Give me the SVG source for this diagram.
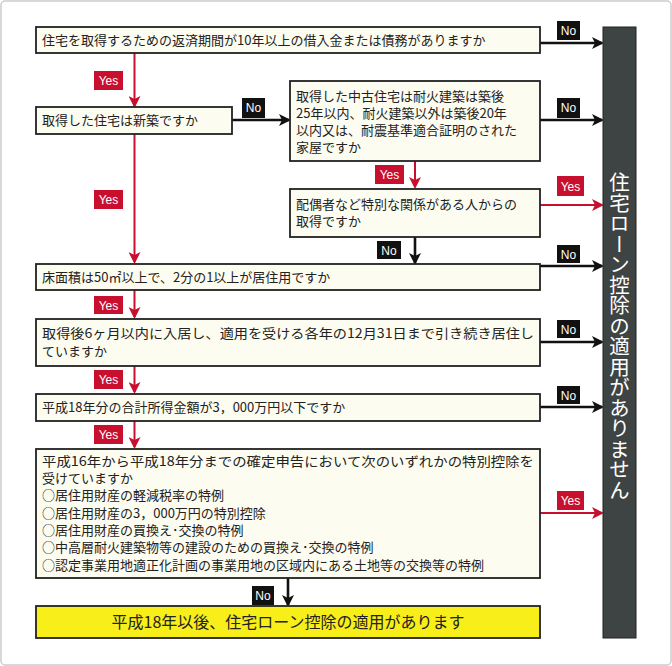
<svg xmlns="http://www.w3.org/2000/svg" width="672" height="666" viewBox="0 0 672 666">
<style>
.box{fill:#fdfcf0;stroke:#222;stroke-width:1.8}
.t{font-family:"Noto Sans CJK JP","Liberation Sans",sans-serif;font-size:13px;fill:#222}
.lb{font-family:"Liberation Sans",sans-serif;font-size:12px;text-anchor:middle}
.no{fill:#111}.yes{fill:#c8102e}
.lt{fill:#fff}
.k{stroke:#111;stroke-width:2.6;fill:none}
.r{stroke:#c8102e;stroke-width:2;fill:none}
</style>
<defs>
<marker id="ak" markerWidth="12" markerHeight="12" refX="10" refY="6" orient="auto" markerUnits="userSpaceOnUse" viewBox="0 0 12 12"><path d="M0,0 L12,6 L0,12 L3,6 Z" fill="#111"/></marker>
<marker id="ar" markerWidth="12" markerHeight="12" refX="10" refY="6" orient="auto" markerUnits="userSpaceOnUse" viewBox="0 0 12 12"><path d="M0,0 L12,6 L0,12 L3,6 Z" fill="#c8102e"/></marker>
</defs>
<rect x="1" y="1" width="670" height="664" rx="4" fill="#fff" stroke="#ccc" stroke-width="1.5"/>
<g id="connectors">
<path class="r" d="M134.5,53 V106" marker-end="url(#ar)"/>
<path class="r" d="M134.5,134 V262" marker-end="url(#ar)"/>
<path class="r" d="M134.5,290 V317" marker-end="url(#ar)"/>
<path class="r" d="M134.5,366 V392" marker-end="url(#ar)"/>
<path class="r" d="M134.5,421 V447" marker-end="url(#ar)"/>
<path class="r" d="M415,161 V187" marker-end="url(#ar)"/>
<path class="r" d="M540,205 H602" marker-end="url(#ar)"/>
<path class="r" d="M540,513 H602" marker-end="url(#ar)"/>
<path class="k" d="M540,43 H602" marker-end="url(#ak)"/>
<path class="k" d="M232,120 H289" marker-end="url(#ak)"/>
<path class="k" d="M540,120 H602" marker-end="url(#ak)"/>
<path class="k" d="M415,237 V263" marker-end="url(#ak)"/>
<path class="k" d="M540,266 H602" marker-end="url(#ak)"/>
<path class="k" d="M540,342 H602" marker-end="url(#ak)"/>
<path class="k" d="M540,407 H602" marker-end="url(#ak)"/>
<path class="k" d="M288,578 V605" marker-end="url(#ak)"/>
<rect class="yes" x="94" y="71" width="29" height="19"/><text class="lb lt" x="108.5" y="85">Yes</text>
<rect class="yes" x="94" y="190" width="29" height="19"/><text class="lb lt" x="108.5" y="204">Yes</text>
<rect class="yes" x="94" y="296" width="29" height="18"/><text class="lb lt" x="108.5" y="310">Yes</text>
<rect class="yes" x="94" y="370" width="29" height="19"/><text class="lb lt" x="108.5" y="384">Yes</text>
<rect class="yes" x="94" y="425" width="29" height="19"/><text class="lb lt" x="108.5" y="439">Yes</text>
<rect class="yes" x="375" y="165" width="29" height="19"/><text class="lb lt" x="389.5" y="179">Yes</text>
<rect class="yes" x="557" y="176" width="27" height="20"/><text class="lb lt" x="570.5" y="191">Yes</text>
<rect class="yes" x="557" y="491" width="27" height="19"/><text class="lb lt" x="570.5" y="505">Yes</text>
<rect class="no" x="557" y="21" width="23" height="19"/><text class="lb lt" x="568.5" y="35">No</text>
<rect class="no" x="242" y="98" width="23" height="20"/><text class="lb lt" x="253.5" y="112">No</text>
<rect class="no" x="557" y="98" width="23" height="20"/><text class="lb lt" x="568.5" y="112">No</text>
<rect class="no" x="377" y="241" width="24" height="18"/><text class="lb lt" x="389" y="255">No</text>
<rect class="no" x="557" y="245" width="23" height="18"/><text class="lb lt" x="568.5" y="259">No</text>
<rect class="no" x="557" y="320" width="23" height="18"/><text class="lb lt" x="568.5" y="334">No</text>
<rect class="no" x="557" y="386" width="23" height="18"/><text class="lb lt" x="568.5" y="400">No</text>
<rect class="no" x="252" y="586" width="22" height="19"/><text class="lb lt" x="263" y="600">No</text>
</g>
<g id="n1"><rect class="box" x="36" y="27" width="504" height="26"/><text class="t" x="42" y="45">住宅を取得するための返済期間が10年以上の借入金または債務がありますか</text></g>
<g id="n2"><rect class="box" x="36" y="107" width="196" height="27"/><text class="t" x="42" y="125">取得した住宅は新築ですか</text></g>
<g id="n3"><rect class="box" x="290" y="81" width="250" height="80"/>
<text class="t" x="296" y="101">取得した中古住宅は耐火建築は築後</text>
<text class="t" x="296" y="118">25年以内、耐火建築以外は築後20年</text>
<text class="t" x="296" y="135">以内又は、耐震基準適合証明のされた</text>
<text class="t" x="296" y="152">家屋ですか</text></g>
<g id="n4"><rect class="box" x="290" y="189" width="250" height="48"/>
<text class="t" x="296" y="209">配偶者など特別な関係がある人からの</text>
<text class="t" x="296" y="226">取得ですか</text></g>
<g id="n5"><rect class="box" x="36" y="264" width="504" height="26"/><text class="t" x="42" y="282">床面積は50㎡以上で、2分の1以上が居住用ですか</text></g>
<g id="n6"><rect class="box" x="36" y="319" width="504" height="47"/>
<text class="t" x="42" y="338" textLength="492" lengthAdjust="spacingAndGlyphs">取得後6ヶ月以内に入居し、適用を受ける各年の12月31日まで引き続き居住し</text>
<text class="t" x="42" y="356">ていますか</text></g>
<g id="n7"><rect class="box" x="36" y="394" width="504" height="27"/><text class="t" x="42" y="412">平成18年分の合計所得金額が3，000万円以下ですか</text></g>
<g id="n8"><rect class="box" x="36" y="449" width="504" height="129"/>
<text class="t" x="42" y="466" textLength="492" lengthAdjust="spacingAndGlyphs">平成16年から平成18年分までの確定申告において次のいずれかの特別控除を</text>
<text class="t" x="42" y="483">受けていますか</text>
<text class="t" x="42" y="500">○居住用財産の軽減税率の特例</text>
<text class="t" x="42" y="518">○居住用財産の3，000万円の特別控除</text>
<text class="t" x="42" y="535">○居住用財産の買換え･交換の特例</text>
<text class="t" x="42" y="552">○中高層耐火建築物等の建設のための買換え･交換の特例</text>
<text class="t" x="42" y="570">○認定事業用地適正化計画の事業用地の区域内にある土地等の交換等の特例</text></g>
<g id="n9"><rect x="36" y="606" width="504" height="32" fill="#f7ee1a" stroke="#222" stroke-width="1.8"/><text class="t" x="288" y="628" style="font-size:16px" text-anchor="middle">平成18年以後、住宅ローン控除の適用があります</text></g>
<g id="bar"><rect x="603" y="27" width="33" height="611" fill="#3e4443" stroke="#222" stroke-width="1"/>
<text x="619.5" y="172" style="font-family:'Noto Sans CJK JP',sans-serif;font-size:20.5px;fill:#fff;writing-mode:vertical-rl;text-orientation:upright">住宅ローン控除の適用がありません</text></g>
</svg>
